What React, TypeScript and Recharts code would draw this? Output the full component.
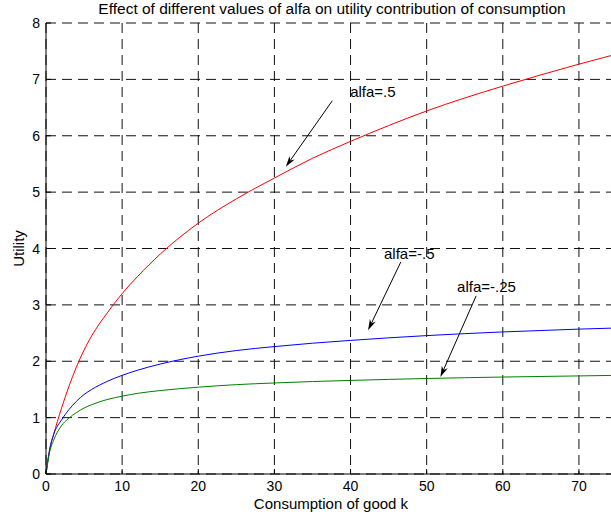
import React from 'react';
import { LineChart, Line, XAxis, YAxis, CartesianGrid, ReferenceLine, ReferenceDot } from 'recharts';

const FONT = '"Liberation Sans", Arial, sans-serif';

// consumption of good k
const consumption = [0, 0.5, 1, 2, 3, 4, 5, 6, 8, 10, 12, 15, 20, 25, 30, 35, 40, 45, 50, 55, 60, 65, 70, 75];
// utility for each alfa
const alfaHalf = [0, 0.45, 0.7, 1.15, 1.55, 1.9, 2.2, 2.45, 2.85, 3.2, 3.5, 3.9, 4.45, 4.88, 5.25, 5.6, 5.9, 6.18, 6.44, 6.67, 6.88, 7.08, 7.27, 7.45];
const alfaMinusHalf = [0, 0.45, 0.7, 0.95, 1.14, 1.29, 1.41, 1.5, 1.64, 1.75, 1.84, 1.95, 2.09, 2.19, 2.26, 2.32, 2.37, 2.415, 2.455, 2.49, 2.52, 2.545, 2.57, 2.59];
const alfaMinusQuarter = [0, 0.4, 0.6, 0.85, 0.99, 1.09, 1.17, 1.23, 1.32, 1.38, 1.43, 1.48, 1.54, 1.585, 1.615, 1.64, 1.66, 1.678, 1.694, 1.708, 1.72, 1.73, 1.74, 1.75];

const xTicks = [0, 10, 20, 30, 40, 50, 60, 70];
const yTicks = [0, 1, 2, 3, 4, 5, 6, 7, 8];

// annotation text anchor + arrow (from -> to), in data units
const notes = [
  { text: 'alfa=.5', tx: 39.95, ty: 6.69, from: [37.6, 6.62], to: [31.5, 5.45] },
  { text: 'alfa=-.5', tx: 44.4, ty: 3.81, from: [46.6, 3.76], to: [42.3, 2.55] },
  { text: 'alfa=-.25', tx: 54.0, ty: 3.22, from: [56.5, 3.16], to: [51.8, 1.72] },
];

const data = consumption.map((k, i) => ({
  k,
  a1: alfaHalf[i],
  a2: alfaMinusHalf[i],
  a3: alfaMinusQuarter[i],
}));

const BottomTick = ({ x, y, payload }: any) => (
  <g>
    <line x1={x} y1={y} x2={x} y2={y - 5} stroke="#000" />
    <text x={x} y={y + 17} textAnchor="middle" fontSize={14} fontFamily={FONT} fill="#000">
      {payload.value}
    </text>
  </g>
);

const TopTick = ({ x, y }: any) => <line x1={x} y1={y} x2={x} y2={y + 5} stroke="#000" />;

const LeftTick = ({ x, y, payload }: any) => (
  <g>
    <line x1={x} y1={y} x2={x + 5} y2={y} stroke="#000" />
    <text x={x - 6} y={y + 5} textAnchor="end" fontSize={14} fontFamily={FONT} fill="#000">
      {payload.value}
    </text>
  </g>
);

const Arrow = ({ x1, y1, x2, y2 }: any) => {
  const a = Math.atan2(y2 - y1, x2 - x1);
  const len = 11;
  const w = 3.2;
  const bx = x2 - len * Math.cos(a);
  const by = y2 - len * Math.sin(a);
  const nx = -Math.sin(a) * w;
  const ny = Math.cos(a) * w;
  const mx = x2 - len * 0.7 * Math.cos(a);
  const my = y2 - len * 0.7 * Math.sin(a);
  return (
    <g>
      <line x1={x1} y1={y1} x2={mx} y2={my} stroke="#000" strokeWidth={1} />
      <path d={`M${x2},${y2} L${bx + nx},${by + ny} L${mx},${my} L${bx - nx},${by - ny} Z`} fill="#000" />
    </g>
  );
};

const NoteText = (text: string) => ({ cx, cy }: any) => (
  <text x={cx} y={cy} fontSize={15} fontFamily={FONT} fill="#000">
    {text}
  </text>
);

export default function App() {
  return (
    <div style={{ position: 'absolute', left: 0, top: 0, width: 611, height: 518, overflow: 'hidden', background: '#fff' }}>
      <LineChart width={617} height={518} data={data} margin={{ top: 23, right: 0, bottom: 0, left: 0 }}>
        <CartesianGrid stroke="#111" strokeDasharray="10 6" />
        <XAxis
          dataKey="k"
          type="number"
          domain={[0, 75]}
          ticks={xTicks}
          interval={0}
          height={44}
          tickSize={0}
          tickMargin={0}
          tickLine={false}
          axisLine={{ stroke: '#000' }}
          tick={<BottomTick />}
        />
        <XAxis
          xAxisId="top"
          orientation="top"
          dataKey="k"
          type="number"
          domain={[0, 75]}
          ticks={xTicks}
          interval={0}
          height={0}
          tickSize={0}
          tickMargin={0}
          tickLine={false}
          axisLine={{ stroke: '#000' }}
          tick={<TopTick />}
        />
        <YAxis
          type="number"
          domain={[0, 8]}
          ticks={yTicks}
          interval={0}
          width={46}
          tickSize={0}
          tickMargin={0}
          tickLine={false}
          axisLine={{ stroke: '#000' }}
          tick={<LeftTick />}
        />
        <Line type="monotone" dataKey="a1" stroke="#ff0000" strokeWidth={1} dot={false} isAnimationActive={false} />
        <Line type="monotone" dataKey="a2" stroke="#0000ff" strokeWidth={1} dot={false} isAnimationActive={false} />
        <Line type="monotone" dataKey="a3" stroke="#008000" strokeWidth={1} dot={false} isAnimationActive={false} />
        {notes.map((n) => (
          <ReferenceLine
            key={`arrow-${n.text}`}
            segment={[{ x: n.from[0], y: n.from[1] }, { x: n.to[0], y: n.to[1] }]}
            shape={(p: any) => <Arrow {...p} />}
          />
        ))}
        {notes.map((n) => (
          <ReferenceDot key={`text-${n.text}`} x={n.tx} y={n.ty} r={0} shape={NoteText(n.text)} />
        ))}
      </LineChart>
      <div
        style={{
          position: 'absolute', left: 82, width: 500, top: 1, textAlign: 'center',
          fontFamily: FONT, fontSize: 15.5, lineHeight: '15px', color: '#000', whiteSpace: 'nowrap',
        }}
      >
        Effect of different values of alfa on utility contribution of consumption
      </div>
      <div
        style={{
          position: 'absolute', left: 231, width: 200, top: 496, textAlign: 'center',
          fontFamily: FONT, fontSize: 15, lineHeight: '15px', color: '#000', whiteSpace: 'nowrap',
        }}
      >
        Consumption of good k
      </div>
      <div
        style={{
          position: 'absolute', left: -32, width: 100, top: 241, textAlign: 'center',
          fontFamily: FONT, fontSize: 15, lineHeight: '15px', color: '#000', transform: 'rotate(-90deg)',
        }}
      >
        Utility
      </div>
    </div>
  );
}
